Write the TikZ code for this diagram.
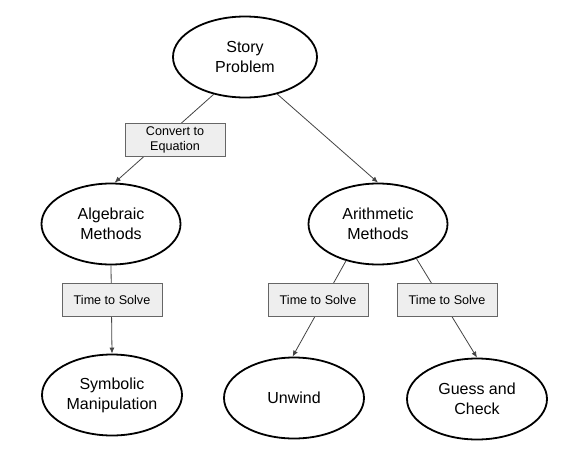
\documentclass[tikz,border=0pt]{standalone}
\usepackage{fontspec}
\setmainfont{Liberation Sans}
\usetikzlibrary{shapes.geometric,arrows.meta}
\definecolor{boxfill}{HTML}{EEEEEE}
\definecolor{boxline}{HTML}{666666}
\definecolor{connline}{HTML}{444444}
\tikzset{
  oval/.style={draw=black, line width=1.8pt, ellipse, inner sep=0pt,
    minimum width=140pt, minimum height=81pt, align=center,
    font=\fontsize{16}{20}\selectfont},
  labelbox/.style={draw=boxline, fill=boxfill, line width=0.9pt, inner sep=0pt,
    minimum width=100pt, minimum height=33pt, align=center,
    font=\fontsize{12.6}{14.5}\selectfont},
  conn/.style={draw=connline, line width=0.8pt, -{Latex[length=6pt,width=5pt]}}
}
\begin{document}
\begin{tikzpicture}[x=1pt,y=-1pt]
\useasboundingbox[fill=white] (0,0) rectangle (579,461);
% ovals
\node[oval, minimum width=144pt] (story) at (245,57) {Story\\Problem};
\node[oval, minimum width=139pt] (alg) at (111,224) {Algebraic\\Methods};
\node[oval, minimum width=139pt] (arith) at (378,224) {Arithmetic\\Methods};
\node[oval] (symb) at (112,395) {Symbolic\\Manipulation};
\node[oval] (unwind) at (294,398) {Unwind};
\node[oval] (guess) at (477,399) {Guess and\\Check};
% connectors
\draw[conn] (story.230) -- (alg.85);
\draw[conn] (story.311) -- (arith.north);
\draw[conn] (alg.south) -- (symb.north);
\draw[conn] (arith.229) -- (unwind.92);
\draw[conn] (arith.318) -- (guess.north);
% labels
\node[labelbox] (convert) at (175,140) {Convert to\\Equation};
\node[labelbox] (tsalg) at (112,300) {Time to Solve};
\node[labelbox] (tsunw) at (318,300) {Time to Solve};
\node[labelbox] (tsgue) at (447,300) {Time to Solve};
\end{tikzpicture}
\end{document}
